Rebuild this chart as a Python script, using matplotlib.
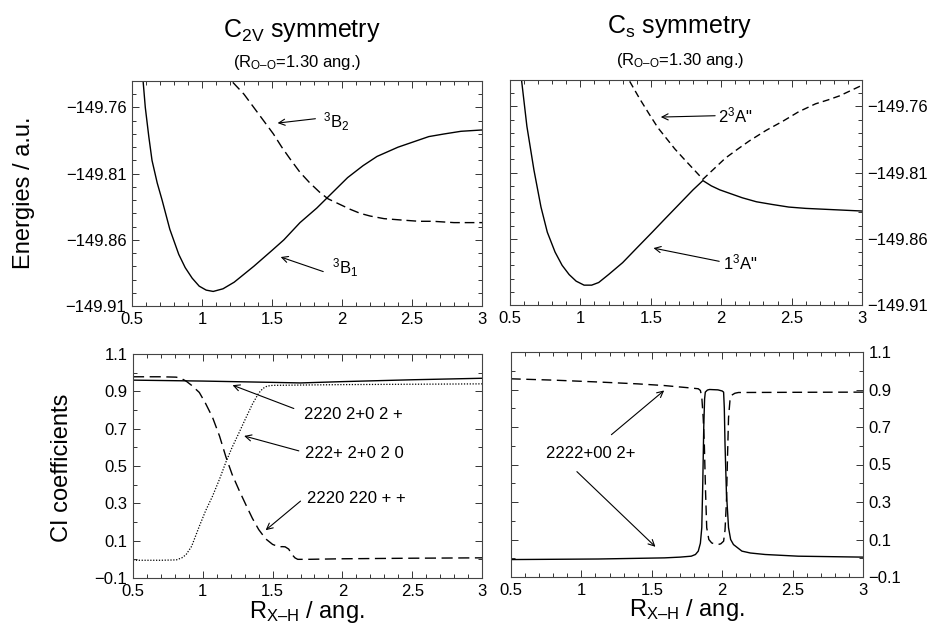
import matplotlib
matplotlib.use("Agg")
import matplotlib.pyplot as plt
from matplotlib.ticker import FixedLocator, MultipleLocator, FuncFormatter

plt.rcParams["font.family"] = ["Liberation Sans", "DejaVu Sans"]
plt.rcParams["mathtext.fontset"] = "custom"
plt.rcParams["mathtext.rm"] = "Liberation Sans"
plt.rcParams["mathtext.it"] = "Liberation Sans:italic"
plt.rcParams["mathtext.default"] = "regular"

# ---- data ----
# top left, C2v energies
b1_x = [0.58, 0.595, 0.62, 0.643, 0.68, 0.715, 0.77, 0.834, 0.88, 0.93, 0.98, 1.03, 1.08, 1.15,
        1.23, 1.30, 1.37, 1.50, 1.585, 1.70, 1.82, 1.906, 2.04, 2.15, 2.25, 2.40, 2.51, 2.62,
        2.73, 2.85, 3.0]
b1_e = [-149.741, -149.760, -149.782, -149.800, -149.817, -149.830, -149.852, -149.871, -149.881,
        -149.889, -149.895, -149.898, -149.899, -149.897, -149.892, -149.886, -149.880, -149.868,
        -149.860, -149.847, -149.836, -149.827, -149.813, -149.804, -149.797, -149.790, -149.786,
        -149.782, -149.780, -149.778, -149.777]
b2_x = [1.22, 1.30, 1.37, 1.44, 1.51, 1.57, 1.63, 1.70, 1.77, 1.84, 1.90, 1.98, 2.06, 2.13, 2.20,
        2.30, 2.42, 2.55, 2.65, 2.80, 2.91, 3.0]
b2_e = [-149.741, -149.750, -149.760, -149.770, -149.780, -149.790, -149.799, -149.809, -149.817,
        -149.824, -149.829, -149.833, -149.837, -149.840, -149.842, -149.844, -149.845, -149.846,
        -149.846, -149.847, -149.847, -149.847]

# top right, Cs energies
a1_x = [0.583, 0.62, 0.67, 0.72, 0.765, 0.82, 0.87, 0.92, 0.97, 1.026, 1.08, 1.13, 1.20, 1.30,
        1.40, 1.51, 1.60, 1.70, 1.80, 1.87, 1.93, 1.99, 2.07, 2.15, 2.25, 2.36, 2.48, 2.60,
        2.80, 3.0]
a1_e = [-149.741, -149.775, -149.808, -149.836, -149.855, -149.870, -149.880, -149.887, -149.892,
        -149.895, -149.895, -149.893, -149.887, -149.878, -149.867, -149.855, -149.845, -149.834,
        -149.823, -149.816, -149.820, -149.823, -149.826, -149.829, -149.832, -149.834, -149.836,
        -149.837, -149.838, -149.839]
a2_x = [1.35, 1.42, 1.49, 1.55, 1.61, 1.67, 1.73, 1.80, 1.87, 1.95, 2.03, 2.12, 2.20, 2.32, 2.44,
        2.55, 2.67, 2.76, 2.84, 2.92, 3.0]
a2_e = [-149.741, -149.754, -149.766, -149.776, -149.784, -149.792, -149.799, -149.807, -149.815,
        -149.807, -149.799, -149.792, -149.786, -149.778, -149.771, -149.764, -149.758, -149.755,
        -149.752, -149.748, -149.744]

# bottom left, C2v CI coefficients
c2v_solid_x = [0.5, 1.0, 1.5, 1.7, 2.0, 2.5, 3.0]
c2v_solid_c = [0.960, 0.955, 0.948, 0.945, 0.952, 0.962, 0.970]
c2v_dash_x = [0.5, 0.70, 0.81, 0.85, 0.88, 0.92, 0.975, 1.02, 1.07, 1.12, 1.165, 1.21, 1.26, 1.31,
              1.355, 1.40, 1.45, 1.50, 1.545, 1.57, 1.59, 1.615, 1.64, 1.66, 1.68, 1.75, 2.0, 2.5, 3.0]
c2v_dash_c = [0.978, 0.978, 0.976, 0.967, 0.955, 0.932, 0.894, 0.835, 0.76, 0.66, 0.55, 0.455,
              0.37, 0.29, 0.22, 0.16, 0.11, 0.080, 0.067, 0.068, 0.067, 0.055, 0.025, 0.008,
              0.000, 0.000, 0.003, 0.006, 0.008]
c2v_dot_x = [0.5, 0.70, 0.81, 0.85, 0.88, 0.92, 0.975, 1.02, 1.07, 1.12, 1.165, 1.21, 1.26, 1.31,
             1.355, 1.40, 1.43, 1.46, 1.50, 2.0, 2.5, 3.0]
c2v_dot_c = [-0.005, -0.005, -0.003, 0.008, 0.025, 0.07, 0.177, 0.26, 0.339, 0.43, 0.52, 0.60,
             0.679, 0.76, 0.831, 0.89, 0.915, 0.928, 0.932, 0.936, 0.938, 0.940]

# bottom right, Cs CI coefficients
cs_dash_x = [0.5, 0.8, 1.12, 1.40, 1.59, 1.75, 1.83, 1.845, 1.855, 1.865, 1.873, 1.882, 1.89,
             1.905, 1.925, 1.95, 1.97, 1.99, 2.01, 2.02, 2.03, 2.038, 2.045, 2.055, 2.068, 2.09,
             2.115, 2.5, 3.0]
cs_dash_c = [0.957, 0.95, 0.94, 0.93, 0.921, 0.91, 0.904, 0.895, 0.86, 0.75, 0.609, 0.35, 0.163,
             0.10, 0.082, 0.075, 0.073, 0.077, 0.091, 0.15, 0.30, 0.55, 0.75, 0.84, 0.870, 0.880,
             0.884, 0.885, 0.886]
cs_solid_x = [0.5, 1.12, 1.59, 1.70, 1.78, 1.81, 1.83, 1.845, 1.855, 1.862, 1.869, 1.875, 1.88,
              1.895, 1.91, 1.97, 2.00, 2.01, 2.015, 2.02, 2.03, 2.045, 2.06, 2.08, 2.14, 2.2, 2.305,
              2.54, 3.0]
cs_solid_c = [-0.007, -0.004, 0.002, 0.006, 0.011, 0.02, 0.038, 0.08, 0.163, 0.40, 0.70, 0.85,
              0.886, 0.897, 0.9, 0.898, 0.892, 0.886, 0.80, 0.609, 0.35, 0.163, 0.10, 0.073, 0.038,
              0.028, 0.02, 0.011, 0.006]

x_ticks = [0.5, 1, 1.5, 2, 2.5, 3]
e_ticks = [-149.91, -149.86, -149.81, -149.76]
ci_ticks = [-0.1, 0.1, 0.3, 0.5, 0.7, 0.9, 1.1]

W, H = 935, 627
fig = plt.figure(figsize=(W / 100, H / 100), dpi=100)


def px_axes(left, top, right, bottom):
    return fig.add_axes([left / W, 1 - bottom / H, (right - left) / W, (bottom - top) / H])


def minus(v, fmt="%.2f"):
    return (fmt % v).replace("-", "\u2212")


def style(ax, yticks, yminor, ylim, fmt, right_labels=False):
    ax.set_xlim(0.5, 3.0)
    ax.set_ylim(*ylim)
    ax.xaxis.set_major_locator(FixedLocator(x_ticks))
    ax.xaxis.set_minor_locator(MultipleLocator(0.1))
    ax.xaxis.set_major_formatter(FuncFormatter(lambda v, p: "%g" % v))
    ax.yaxis.set_major_locator(FixedLocator(yticks))
    ax.yaxis.set_minor_locator(MultipleLocator(yminor))
    ax.yaxis.set_major_formatter(FuncFormatter(lambda v, p: minus(v, fmt=fmt)))
    ax.tick_params(which="both", direction="in", top=True, right=True, labelsize=12, width=0.7,
                   color="#333333")
    ax.tick_params(which="major", length=5, pad=4)
    ax.tick_params(which="minor", length=3)
    if right_labels:
        ax.tick_params(labelleft=False, labelright=True)
    for s in ax.spines.values():
        s.set_linewidth(0.8)
        s.set_color("#444444")


def arrow(ax, tail, head):
    ax.annotate("", xy=head, xytext=tail,
                arrowprops=dict(arrowstyle="->", lw=0.8, color="black",
                                shrinkA=0, shrinkB=0, mutation_scale=11))


ax_tl = px_axes(132, 81, 482, 306)
ax_tr = px_axes(510, 80, 862, 305)
ax_bl = px_axes(133, 354, 482, 578)
ax_br = px_axes(511, 352, 863, 577)

E_LIM = (-149.91, -149.74)
CI_LIM = (-0.1, 1.1)
style(ax_tl, e_ticks, 0.01, E_LIM, "%.2f")
style(ax_tr, e_ticks, 0.01, E_LIM, "%.2f", right_labels=True)
style(ax_bl, ci_ticks, 0.1, CI_LIM, "%.1f")
style(ax_br, ci_ticks, 0.1, CI_LIM, "%.1f", right_labels=True)

# top left
ax_tl.plot(b1_x, b1_e, color="black", lw=1.0)
ax_tl.plot(b2_x, b2_e, color="black", lw=1.0, dashes=(7, 3.5))
ax_tl.text(1.866, -149.771, "$^3$B$_2$", fontsize=12, ha="left", va="center")
arrow(ax_tl, (1.81, -149.7685), (1.54, -149.7718))
ax_tl.text(1.93, -149.881, "$^3$B$_1$", fontsize=12, ha="left", va="center")
arrow(ax_tl, (1.866, -149.884), (1.562, -149.873))

# top right
ax_tr.plot(a1_x, a1_e, color="black", lw=1.0)
ax_tr.plot(a2_x, a2_e, color="black", lw=1.0, dashes=(5, 3))
ax_tr.text(1.979, -149.767, '2$^3$A"', fontsize=12, ha="left", va="center")
arrow(ax_tr, (1.957, -149.767), (1.571, -149.768))
ax_tr.text(2.01, -149.8775, '1$^3$A"', fontsize=12, ha="left", va="center")
arrow(ax_tr, (1.986, -149.877), (1.519, -149.867))

# bottom left
ax_bl.plot(c2v_solid_x, c2v_solid_c, color="black", lw=1.0)
ax_bl.plot(c2v_dash_x, c2v_dash_c, color="black", lw=1.0, dashes=(8, 4))
ax_bl.plot(c2v_dot_x, c2v_dot_c, color="black", lw=0.9, dashes=(1, 1.3))
ax_bl.text(1.723, 0.778, "2220 2+0 2 +", fontsize=12, ha="left", va="center")
arrow(ax_bl, (1.652, 0.808), (1.213, 0.933))
ax_bl.text(1.735, 0.568, "222+ 2+0 2 0", fontsize=12, ha="left", va="center")
arrow(ax_bl, (1.688, 0.581), (1.296, 0.661))
ax_bl.text(1.747, 0.324, "2220 220 + +", fontsize=12, ha="left", va="center")
arrow(ax_bl, (1.70, 0.312), (1.45, 0.156))

# bottom right
ax_br.plot(cs_solid_x, cs_solid_c, color="black", lw=1.0)
ax_br.plot(cs_dash_x, cs_dash_c, color="black", lw=1.0, dashes=(7, 4))
ax_br.text(0.749, 0.559, "2222+00 2+", fontsize=12, ha="left", va="center")
arrow(ax_br, (1.213, 0.659), (1.588, 0.895))
arrow(ax_br, (0.968, 0.462), (1.526, 0.061))

# titles and axis labels
fig.text(302 / W, 1 - 31 / H, "C$_{2V}$ symmetry", fontsize=18, ha="center", va="center")
fig.text(297 / W, 1 - 63 / H, "(R$_{\\mathrm{O\u2013O}}$=1.30 ang.)", fontsize=12,
         ha="center", va="center")
fig.text(680 / W, 1 - 27 / H, "C$_s$ symmetry", fontsize=18, ha="center", va="center")
fig.text(680 / W, 1 - 60 / H, "(R$_{\\mathrm{O\u2013O}}$=1.30 ang.)", fontsize=12,
         ha="center", va="center")
fig.text(24 / W, 1 - 193 / H, "Energies / a.u.", fontsize=17, rotation=90, ha="center", va="center")
fig.text(62 / W, 1 - 468 / H, "CI coefficients", fontsize=17, rotation=90, ha="center", va="center")
fig.text(307 / W, 1 - 612 / H, "R$_{\\mathrm{X\u2013H}}$ / ang.", fontsize=17, ha="center", va="center")
fig.text(687 / W, 1 - 610 / H, "R$_{\\mathrm{X\u2013H}}$ / ang.", fontsize=17, ha="center", va="center")

fig.savefig("out.png", dpi=100)
